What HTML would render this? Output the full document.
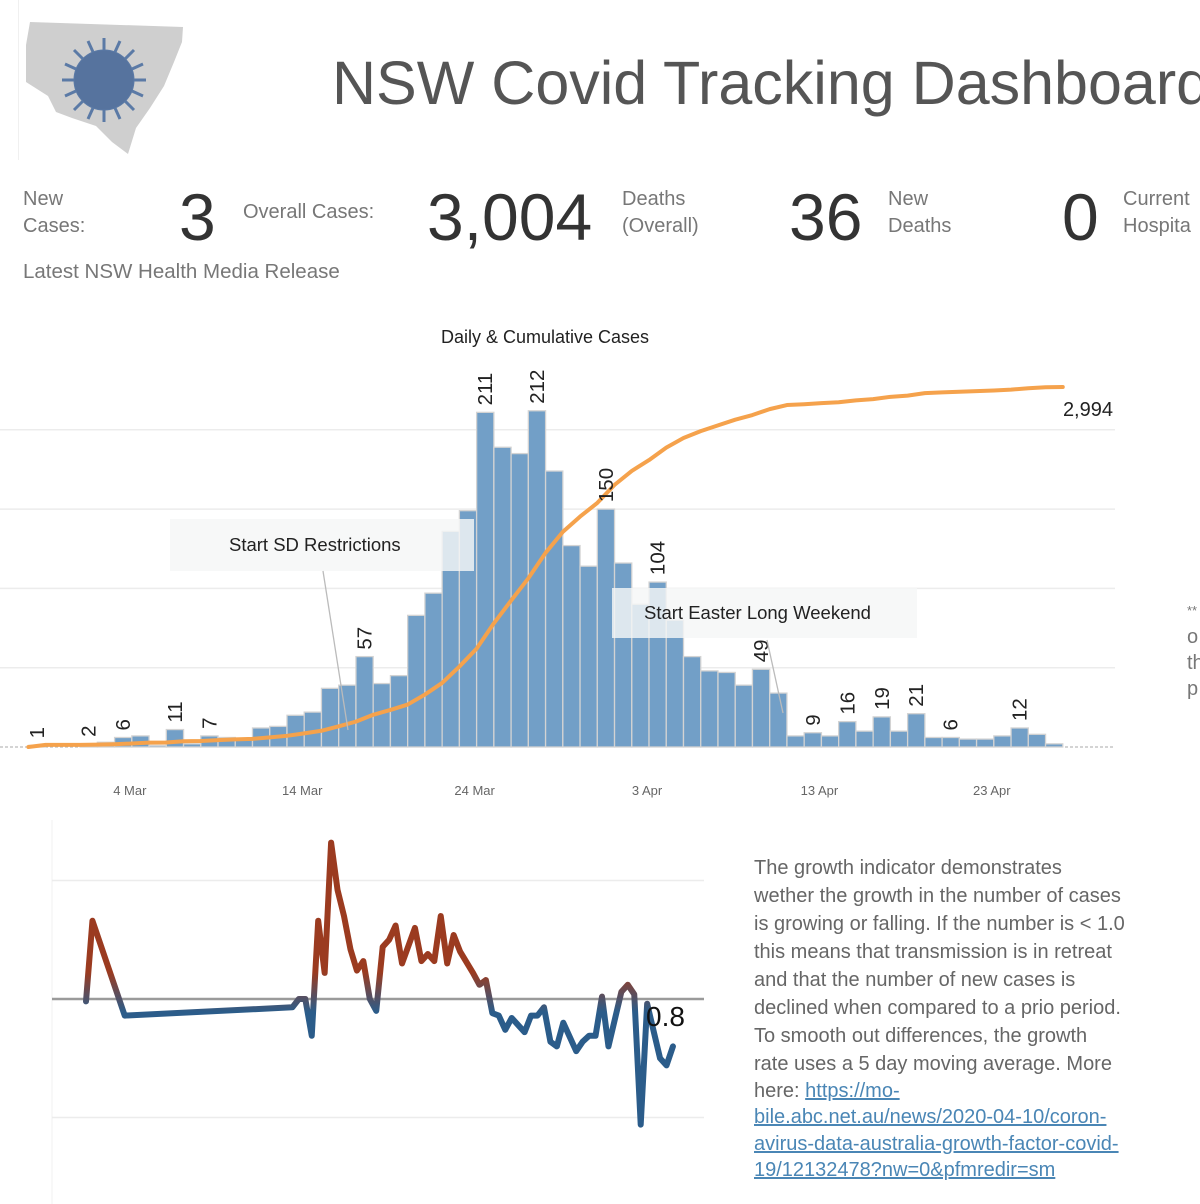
<!DOCTYPE html>
<html><head><meta charset="utf-8"><style>
body{margin:0;width:1200px;height:1204px;overflow:hidden;background:#fff;font-family:"Liberation Sans",sans-serif;position:relative}
.a{position:absolute;white-space:nowrap}
.lbl{color:#777;font-size:20px;line-height:27px}
.big{color:#333;font-size:66px;line-height:66px}
.desc{position:absolute;left:754px;top:854px;color:#666;font-size:20px;line-height:28px;white-space:nowrap}
.desc a{color:#4a86b5;text-decoration:underline}
.desc .ln{line-height:26.3px}
</style></head><body>
<div class="a" style="left:18px;top:0;width:1px;height:160px;background:#f0f0f0"></div>
<svg class="a" style="left:0;top:0" width="200" height="165">
<polygon points="30,22 183,27 182,42 174,62 164,86 150,108 136,128 128,154 112,142 96,126 72,118 56,112 48,96 26,82 26,45" fill="#cfcfcf"/>
<g transform="translate(104,80)" fill="#5b7aa6" stroke="#5b7aa6">
<circle r="30" fill="#56739e"/>
<g stroke-width="3">
<line x1="0" y1="-30" x2="0" y2="-42"/><line x1="0" y1="30" x2="0" y2="42"/><line x1="-30" y1="0" x2="-42" y2="0"/><line x1="30" y1="0" x2="42" y2="0"/>
<line x1="21" y1="21" x2="30" y2="30"/><line x1="-21" y1="21" x2="-30" y2="30"/><line x1="21" y1="-21" x2="30" y2="-30"/><line x1="-21" y1="-21" x2="-30" y2="-30"/>
<line x1="11" y1="-28" x2="16" y2="-39"/><line x1="-11" y1="-28" x2="-16" y2="-39"/><line x1="11" y1="28" x2="16" y2="39"/><line x1="-11" y1="28" x2="-16" y2="39"/>
<line x1="28" y1="11" x2="39" y2="16"/><line x1="28" y1="-11" x2="39" y2="-16"/><line x1="-28" y1="11" x2="-39" y2="16"/><line x1="-28" y1="-11" x2="-39" y2="-16"/>
</g></g></svg>
<div class="a" style="left:332px;top:48px;font-size:61px;color:#555;line-height:70px">NSW Covid Tracking Dashboard</div>

<div class="a lbl" style="left:23px;top:186px">New<br>Cases:</div>
<div class="a big" style="left:179px;top:184px">3</div>
<div class="a lbl" style="left:243px;top:199px">Overall Cases:</div>
<div class="a big" style="left:427px;top:184px">3,004</div>
<div class="a lbl" style="left:622px;top:186px">Deaths<br>(Overall)</div>
<div class="a big" style="left:789px;top:184px">36</div>
<div class="a lbl" style="left:888px;top:186px">New<br>Deaths</div>
<div class="a big" style="left:1062px;top:184px">0</div>
<div class="a lbl" style="left:1123px;top:186px">Current<br>Hospita</div>
<div class="a lbl" style="left:23px;top:258px;font-size:20.5px">Latest NSW Health Media Release</div>

<div class="a lbl" style="left:1187px;top:596px;font-size:20px;line-height:26px"><span style="font-size:13px">**</span><br>o<br>th<br>p</div>

<svg id="bars" class="a" style="left:0;top:300px" width="1200" height="510" viewBox="0 300 1200 510"></svg>
<svg id="growth" class="a" style="left:0;top:820px" width="720" height="384" viewBox="0 820 720 384"></svg>

<div class="desc">
<div>The growth indicator demonstrates</div>
<div>wether the growth in the number of cases</div>
<div>is growing or falling. If the number is &lt; 1.0</div>
<div>this means that transmission is in retreat</div>
<div>and that the number of new cases is</div>
<div>declined when compared to a prio period.</div>
<div>To smooth out differences, the growth</div>
<div>rate uses a 5 day moving average. More</div>
<div class="ln">here: <a>https://mo-</a></div>
<div class="ln"><a>bile.abc.net.au/news/2020-04-10/coron-</a></div>
<div class="ln"><a>avirus-data-australia-growth-factor-covid-</a></div>
<div class="ln"><a>19/12132478?nw=0&amp;pfmredir=sm</a></div>
</div>

<script>
const dailyCases=[1,0,0,2,3,6,7,1,11,2,7,6,5,12,13,20,22,37,39,57,40,45,83,97,136,149,211,189,185,212,174,127,114,150,116,90,104,80,57,48,47,39,49,34,7,9,7,16,10,19,10,21,6,6,5,5,7,12,8,2];
const labeledDays=[0,3,5,8,10,19,26,29,33,36,42,45,47,49,51,53,57];
const tickLabels=["4 Mar","14 Mar","24 Mar","3 Apr","13 Apr","23 Apr"];
const tickDays=[5.5,15.5,25.5,35.5,45.5,55.5];
const cumulativeBase=17;
const gridValues=[50,100,150,200];

const growthDays=[0,1,6,32,33,34,35,36,37,38,39,40,41,42,43,44,45,46,47,48,49,51,52,53,54,55,56,57,58,60,61,62,63,64,65,66,68,69,70,71,72,73,74,76,77,78,79,80,81,83,84,85,86,87,89,90,91];
const growthValues=[0.99,1.33,0.93,0.965,1.0,1.0,0.845,1.33,1.11,1.66,1.46,1.35,1.21,1.12,1.16,1.0,0.95,1.22,1.25,1.31,1.15,1.30,1.16,1.19,1.16,1.35,1.15,1.27,1.20,1.11,1.06,1.08,0.94,0.93,0.87,0.92,0.86,0.93,0.93,0.965,0.82,0.80,0.90,0.78,0.82,0.845,0.845,1.01,0.80,1.03,1.06,1.02,0.47,0.98,0.75,0.72,0.80];
const growthLabel="0.8";

const NS="http://www.w3.org/2000/svg";
function mk(p,t,a){const e=document.createElementNS(NS,t);for(const k in a)e.setAttribute(k,a[k]);p.appendChild(e);return e;}

const B=document.getElementById('bars');
const base=747, yPer=1.586, x0=37, dx=17.24;
const xB=i=>x0+i*dx, yB=v=>base-v*yPer;
const yC=c=>base-c*(360/2994);
gridValues.forEach(g=>{const l=mk(B,'line',{x1:0,x2:1115,y1:yB(g),y2:yB(g),stroke:'#ececec','stroke-width':1.5});

});
const bl=mk(B,'line',{x1:0,x2:1115,y1:base,y2:base,stroke:'#aaa','stroke-dasharray':'3,2'});


dailyCases.forEach((v,i)=>{if(v<=0)return;
const r=mk(B,'rect',{x:xB(i)-dx/2,y:yB(v),width:dx,height:v*yPer,fill:'#729fc7',stroke:'#d3d3d3','stroke-width':1.3});

});
let c=cumulativeBase, pts=[[xB(0)-dx/2,base]];
dailyCases.forEach((v,i)=>{c+=v;pts.push([xB(i)+dx/2,yC(c)]);});
const pl=mk(B,'polyline',{points:pts.map(p=>p.join(',')).join(' '),fill:'none',stroke:'#f5a24c','stroke-width':4,'stroke-linejoin':'round','stroke-linecap':'round'});


const ct=mk(B,'text',{x:1113,y:yC(c)+29,'text-anchor':'end','font-size':20,fill:'#222','font-family':'Liberation Sans'});
ct.textContent=c.toLocaleString('en-US');


labeledDays.forEach(i=>{const v=dailyCases[i];const x=xB(i)+7,y=yB(v)-7;
const t=mk(B,'text',{x:x,y:y,transform:`rotate(-90 ${x} ${y})`,'font-size':20.5,fill:'#222','font-family':'Liberation Sans'});
t.textContent=v;

});
tickLabels.forEach((s,k)=>{const t=mk(B,'text',{x:xB(tickDays[k])-2,y:795,'text-anchor':'middle','font-size':13,fill:'#666','font-family':'Liberation Sans'});
t.textContent=s;

});
function ann(x,y,w,h,tx,lx1,ly1,lx2,ly2,txtX,name){
const g=mk(B,'g',{});


mk(g,'rect',{x:x,y:y,width:w,height:h,fill:'rgba(245,246,247,0.82)'});
mk(g,'line',{x1:lx1,y1:ly1,x2:lx2,y2:ly2,stroke:'#bbb','stroke-width':1.3});
const t=mk(g,'text',{x:txtX,y:y+h/2+6,'font-size':18.5,fill:'#222','font-family':'Liberation Sans'});t.textContent=tx;}
ann(170,519,304,52,'Start SD Restrictions',323,571,348,730,229,'sd-restrictions-annotation');
ann(612,588,305,50,'Start Easter Long Weekend',767,640,783,713,644,'easter-annotation');
const tt=mk(B,'text',{x:545,y:343,'text-anchor':'middle','font-size':18,fill:'#222','font-family':'Liberation Sans'});
tt.textContent='Daily & Cumulative Cases';



const G=document.getElementById('growth');
const xG=d=>86+d*6.45, yG=v=>999-(v-1)*237;
const defs=mk(G,'defs',{});
const lg=mk(defs,'linearGradient',{id:'gg',gradientUnits:'userSpaceOnUse',x1:0,x2:0,y1:972,y2:1012});
mk(lg,'stop',{offset:0,'stop-color':'#9b3b20'});mk(lg,'stop',{offset:1,'stop-color':'#2b5c8a'});
mk(G,'line',{x1:52,x2:52,y1:820,y2:1204,stroke:'#f0f0f0'});
[1.5,0.5].forEach(v=>{const l=mk(G,'line',{x1:52,x2:704,y1:yG(v),y2:yG(v),stroke:'#ececec','stroke-width':1.5});

});
const rl=mk(G,'line',{x1:52,x2:704,y1:yG(1),y2:yG(1),stroke:'#9a9a9a','stroke-width':2.5});


const gp=mk(G,'polyline',{points:growthDays.map((d,i)=>xG(d)+','+yG(growthValues[i])).join(' '),fill:'none',stroke:'url(#gg)','stroke-width':6,'stroke-linejoin':'round','stroke-linecap':'round'});


const gl=mk(G,'text',{x:646,y:1026,'font-size':28,fill:'#111','font-family':'Liberation Sans'});
gl.textContent=growthLabel;


</script>
</body></html>
